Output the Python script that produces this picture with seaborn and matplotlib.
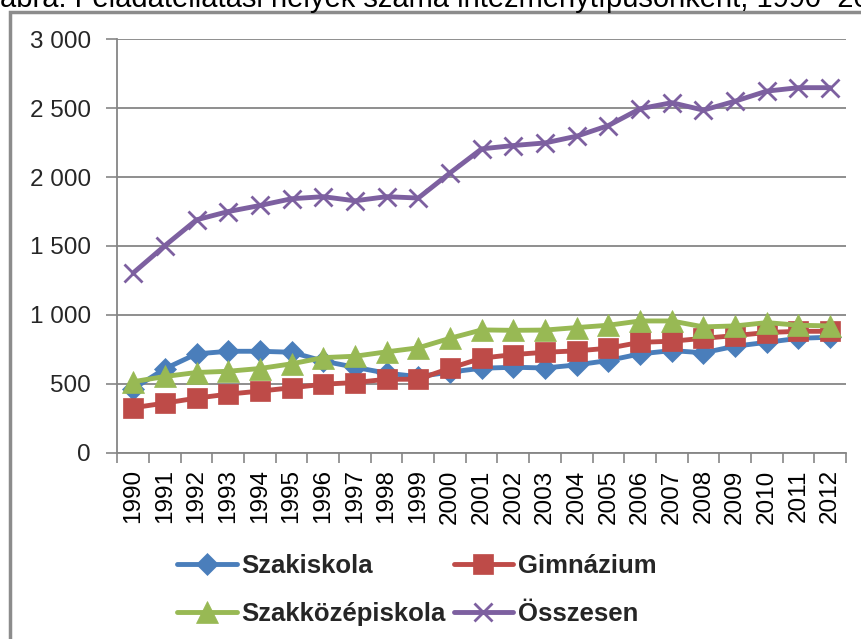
import matplotlib
matplotlib.use("Agg")
import matplotlib.pyplot as plt
import matplotlib.patches as mpatches
from matplotlib.ticker import FuncFormatter, FixedLocator
import seaborn as sns
import pandas as pd

years = [str(y) for y in range(1990, 2013)]
szakiskola = [464, 609, 717, 736, 736, 729, 665, 620, 577, 552, 585, 613, 620,
              615, 637, 669, 717, 741, 725, 773, 801, 830, 838]
gimnazium = [326, 360, 396, 425, 447, 471, 497, 509, 533, 533, 613, 686, 712,
             729, 739, 758, 801, 809, 830, 850, 872, 881, 881]
szakkozep = [515, 553, 582, 591, 611, 645, 690, 700, 732, 761, 830, 891, 888,
             890, 908, 925, 956, 956, 913, 920, 944, 925, 920]
osszesen = [1304, 1502, 1690, 1750, 1794, 1843, 1858, 1828, 1858, 1848, 2030,
            2205, 2229, 2248, 2297, 2374, 2496, 2540, 2486, 2551, 2624, 2649, 2649]

series_names = ["Szakiskola", "Gimnázium", "Szakközépiskola", "Összesen"]
series_values = [szakiskola, gimnazium, szakkozep, osszesen]
colors = ["#4A7EBB", "#BE4B48", "#98B954", "#7D60A0"]
markers = ["D", "s", "^", "x"]
msizes = [11, 15, 16, 13]

sns.set_theme(style="white")
plt.rcParams['font.family'] = ['Liberation Sans', 'DejaVu Sans']

fig = plt.figure(figsize=(8.61, 6.39), dpi=100)
ax = fig.add_axes([117.3 / 861, 1 - 452.7 / 639, (846 - 117.3) / 861, (452.7 - 39.3) / 639])

rows = []
for name, vals in zip(series_names, series_values):
    for i, (yr, v) in enumerate(zip(years, vals)):
        rows.append({"series": name, "year": yr, "pos": i, "value": v})
df = pd.DataFrame(rows)

handles = []
for name, c, m, ms in zip(series_names, colors, markers, msizes):
    sub = df[df["series"] == name]
    sns.lineplot(data=sub, x="pos", y="value", ax=ax, color=c, marker=m,
                 markersize=ms, linewidth=3.5, markeredgecolor=c,
                 markeredgewidth=2.0 if m == "x" else 0.5, label=name,
                 legend=False, zorder=3)
    handles.append(ax.lines[-1])

ax.set_xlim(-0.5, len(years) - 0.5)
ax.set_ylim(0, 3000)
ax.set_yticks(range(0, 3001, 500))
ax.yaxis.set_major_formatter(FuncFormatter(lambda v, p: f"{v:,.0f}".replace(",", " ")))
ax.set_xticks(range(len(years)))
ax.set_xticklabels(years, rotation=90)
ax.xaxis.set_minor_locator(FixedLocator([i - 0.5 for i in range(len(years) + 1)]))
ax.tick_params(axis="x", which="major", length=0, pad=12, labelsize=17.5, colors="black")
ax.tick_params(axis="x", which="minor", length=7, width=1.2, color="#868686", bottom=True)
ax.tick_params(axis="y", which="major", length=8, width=1.2, color="#868686",
               pad=11, labelsize=17.5, left=True)
ax.set_xlabel("")
ax.set_ylabel("")
ax.grid(axis="y", color="#868686", linewidth=1.3)
ax.set_axisbelow(True)
for s in ["top", "right"]:
    ax.spines[s].set_visible(False)
for s in ["left", "bottom"]:
    ax.spines[s].set_color("#868686")
    ax.spines[s].set_linewidth(1.3)

order = [0, 2, 1, 3]
leg = fig.legend([handles[i] for i in order], [series_names[i] for i in order],
                 ncol=2, loc="center", bbox_to_anchor=(417 / 861, 1 - 590 / 639),
                 frameon=False, handlelength=2.3, columnspacing=0.3,
                 labelspacing=0.95, handletextpad=0.2,
                 prop={"family": "Liberation Sans", "weight": "bold", "size": 18.5})

fig.text(0.0, 1 - 7 / 639, "ábra: Feladatellátási helyek száma intézménytípusonként, 1990–2012",
         ha="left", va="baseline", fontsize=21, color="black")

fig.patches.append(mpatches.Rectangle((10 / 861, -0.1), 2.0, 1.1 - 12 / 639,
                                      transform=fig.transFigure, fill=False,
                                      edgecolor="#8C8C8C", linewidth=2.5))

fig.savefig("out.png", dpi=100)
